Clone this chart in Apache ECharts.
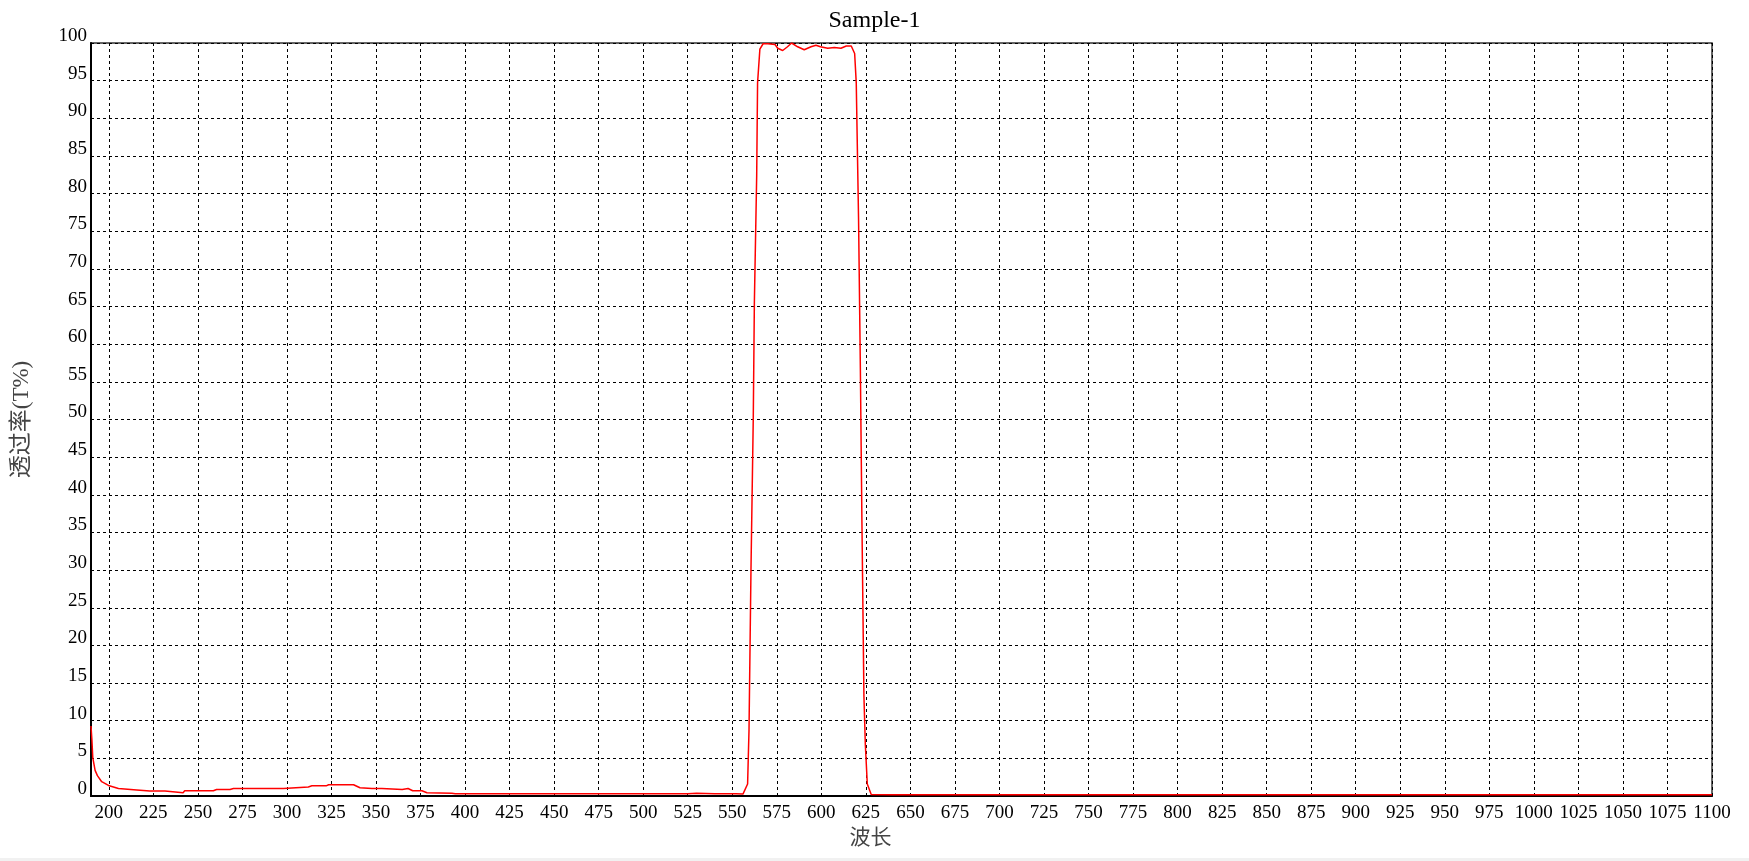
<!DOCTYPE html>
<html>
<head>
<meta charset="utf-8">
<script src="https://cdn.jsdelivr.net/npm/echarts@6/dist/echarts.min.js"></script>
<style>
html, body { margin: 0; padding: 0; background: #f1f1f1; }
#chart { width: 1749px; height: 858px; background: #ffffff; }
</style>
</head>
<body>
<div id="chart"></div>
<script>
const chartTitle = 'Sample-1';
const xName = '波长';
const yName = '透过率(T%)';

const xTickLabels = [200, 225, 250, 275, 300, 325, 350, 375, 400, 425, 450, 475, 500, 525, 550, 575, 600, 625, 650, 675, 700, 725, 750, 775, 800, 825, 850, 875, 900, 925, 950, 975, 1000, 1025, 1050, 1075, 1100];

const wavelength = [
  190, 190.5, 191, 192.3, 193.6, 196, 199.8, 205.4, 215.7, 223,
  231.5, 232.4, 241.7, 242.6, 258.7, 260.5, 268, 270, 298, 299,
  312, 314, 322, 323.4, 337.4, 338.4, 341, 347.7, 353.3, 354,
  364.7, 365.6, 368, 370.6, 375.8, 378.6, 392.6, 394.5, 420, 450,
  500, 525, 530, 540, 552, 556, 558.6, 559.4, 560.5, 561.8,
  562.4, 563.7, 564.2, 565.5, 567.3, 570, 574, 575.5, 578.3, 581,
  583.3, 586.7, 590.4, 594.2, 597, 599.5, 603.6, 607.3, 611, 614,
  616.8, 618.7, 619.6, 620.9, 621.9, 622.8, 623.9, 624.7, 625.8, 628,
  640, 700, 800, 900, 1000, 1100
];

const transmittance = [
  9.3, 7.5, 5.1, 3.4, 2.7, 1.9, 1.4, 1.0, 0.8, 0.65,
  0.65, 0.43, 0.43, 0.7, 0.7, 0.87, 0.87, 1.0, 1.0, 1.2,
  1.2, 1.35, 1.35, 1.5, 1.5, 1.65, 1.1, 1.0, 1.0, 0.87,
  0.87, 1.0, 1.0, 0.7, 0.7, 0.43, 0.35, 0.3, 0.3, 0.3,
  0.3, 0.3, 0.35, 0.3, 0.3, 0.25, 1.6, 8.8, 30, 50.4,
  65.4, 82.3, 94.7, 99.2, 99.9, 99.9, 99.8, 99.3, 99.0, 99.5,
  100, 99.5, 99.1, 99.5, 99.7, 99.5, 99.3, 99.4, 99.3, 99.6,
  99.6, 98.6, 94.7, 76.5, 56.9, 36.1, 13.3, 6.8, 1.6, 0.2,
  0.15, 0.15, 0.15, 0.15, 0.15, 0.15
];

const seriesData = wavelength.map((w, i) => [w, transmittance[i]]);
const serif = '"Liberation Serif", "Times New Roman", serif';
const cjk = '"Liberation Serif", "Noto Sans CJK SC", serif';

const chart = echarts.init(document.getElementById('chart'));
chart.setOption({
  animation: false,
  backgroundColor: '#ffffff',
  title: {
    text: chartTitle,
    left: 'center',
    top: 4,
    textStyle: { fontFamily: serif, fontSize: 24, fontWeight: 'normal', color: '#000' }
  },
  grid: {
    left: 91, right: 37, top: 43, bottom: 62,
    show: true, borderColor: '#333', borderWidth: 1.5, backgroundColor: 'transparent'
  },
  xAxis: {
    type: 'value',
    min: 190,
    max: 1100,
    name: xName,
    nameLocation: 'middle',
    nameGap: 29,
    nameTextStyle: { fontFamily: cjk, fontSize: 21, color: '#444', padding: [0, 62, 0, 0] },
    axisLine: { show: true, onZero: false, lineStyle: { color: '#000', width: 2 } },
    axisTick: { show: false, customValues: xTickLabels },
    axisLabel: {
      customValues: xTickLabels,
      margin: 8,
      formatter: v => String(v),
      fontFamily: serif, fontSize: 19, color: '#000'
    },
    splitLine: { show: true, lineStyle: { color: '#000', type: [3, 3], width: 1 } }
  },
  yAxis: {
    type: 'value',
    min: 0,
    max: 100,
    interval: 5,
    name: yName,
    nameLocation: 'middle',
    nameGap: 58,
    nameTextStyle: { fontFamily: cjk, fontSize: 23, color: '#444' },
    axisLine: { show: true, lineStyle: { color: '#000', width: 2 } },
    axisTick: { show: false },
    axisLabel: {
      margin: 4,
      formatter: v => String(v),
      fontFamily: serif, fontSize: 19, color: '#000',
      verticalAlign: 'bottom', lineHeight: 14
    },
    splitLine: { show: true, lineStyle: { color: '#000', type: [3, 3], width: 1 } }
  },
  series: [{
    type: 'line',
    data: seriesData,
    showSymbol: false,
    symbol: 'none',
    lineStyle: { color: '#ff0000', width: 1.5 },
    clip: true
  }]
});
</script>
</body>
</html>
